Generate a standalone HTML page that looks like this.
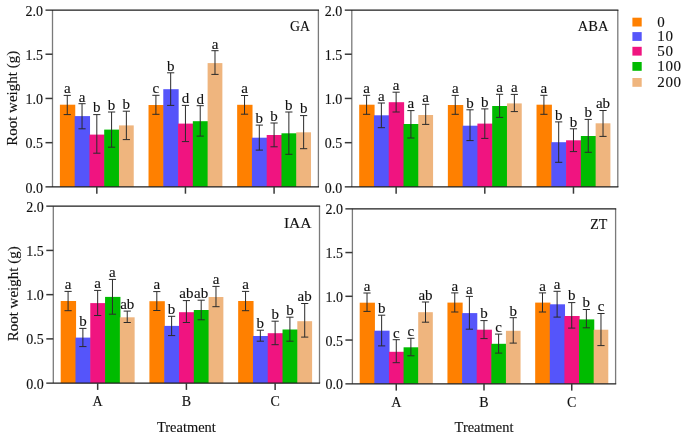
<!DOCTYPE html><html><head><meta charset="utf-8"><style>html,body{margin:0;padding:0;background:#fff;width:685px;height:435px;overflow:hidden}svg{display:block;filter:blur(0.45px)}text{stroke:#111;stroke-width:0.12px}</style></head><body>
<svg width="685" height="435" viewBox="0 0 685 435">
<rect x="0" y="0" width="685" height="435" fill="#fff"/>
<rect x="59.89" y="104.7" width="15.37" height="82.2" fill="#FF8000"/>
<rect x="74.66" y="116.1" width="15.37" height="70.8" fill="#5555FA"/>
<rect x="89.43" y="134.6" width="15.37" height="52.3" fill="#F01480"/>
<rect x="104.2" y="129.6" width="15.37" height="57.3" fill="#00BB00"/>
<rect x="118.97" y="125.4" width="14.77" height="61.5" fill="#EFB57E"/>
<rect x="148.52" y="105" width="15.37" height="81.9" fill="#FF8000"/>
<rect x="163.29" y="89.2" width="15.37" height="97.7" fill="#5555FA"/>
<rect x="178.06" y="123.6" width="15.37" height="63.3" fill="#F01480"/>
<rect x="192.84" y="121.2" width="15.37" height="65.7" fill="#00BB00"/>
<rect x="207.61" y="63.1" width="14.77" height="123.8" fill="#EFB57E"/>
<rect x="237.15" y="104.8" width="15.37" height="82.1" fill="#FF8000"/>
<rect x="251.92" y="137.7" width="15.37" height="49.2" fill="#5555FA"/>
<rect x="266.7" y="135" width="15.37" height="51.9" fill="#F01480"/>
<rect x="281.47" y="133.3" width="15.37" height="53.6" fill="#00BB00"/>
<rect x="296.24" y="132.3" width="14.77" height="54.6" fill="#EFB57E"/>
<path d="M67.27 95.4V114.6M63.67 95.4H70.87M63.67 114.6H70.87" stroke="#2a2a2a" stroke-width="1.0" fill="none"/>
<text x="67.27" y="93.2" font-family="Liberation Serif, serif" font-size="15" text-anchor="middle" fill="#111">a</text>
<path d="M82.04 103.7V128.8M78.44 103.7H85.64M78.44 128.8H85.64" stroke="#2a2a2a" stroke-width="1.0" fill="none"/>
<text x="82.04" y="101.5" font-family="Liberation Serif, serif" font-size="15" text-anchor="middle" fill="#111">a</text>
<path d="M96.82 114.6V153.2M93.22 114.6H100.42M93.22 153.2H100.42" stroke="#2a2a2a" stroke-width="1.0" fill="none"/>
<text x="96.82" y="112.4" font-family="Liberation Serif, serif" font-size="15" text-anchor="middle" fill="#111">b</text>
<path d="M111.59 112V147.2M107.99 112H115.19M107.99 147.2H115.19" stroke="#2a2a2a" stroke-width="1.0" fill="none"/>
<text x="111.59" y="109.8" font-family="Liberation Serif, serif" font-size="15" text-anchor="middle" fill="#111">b</text>
<path d="M126.36 111.2V139.6M122.76 111.2H129.96M122.76 139.6H129.96" stroke="#2a2a2a" stroke-width="1.0" fill="none"/>
<text x="126.36" y="109" font-family="Liberation Serif, serif" font-size="15" text-anchor="middle" fill="#111">b</text>
<path d="M155.91 95.3V114.3M152.31 95.3H159.51M152.31 114.3H159.51" stroke="#2a2a2a" stroke-width="1.0" fill="none"/>
<text x="155.91" y="93.1" font-family="Liberation Serif, serif" font-size="15" text-anchor="middle" fill="#111">c</text>
<path d="M170.68 72.8V105.4M167.08 72.8H174.28M167.08 105.4H174.28" stroke="#2a2a2a" stroke-width="1.0" fill="none"/>
<text x="170.68" y="70.6" font-family="Liberation Serif, serif" font-size="15" text-anchor="middle" fill="#111">b</text>
<path d="M185.45 105.4V141.6M181.85 105.4H189.05M181.85 141.6H189.05" stroke="#2a2a2a" stroke-width="1.0" fill="none"/>
<text x="185.45" y="103.2" font-family="Liberation Serif, serif" font-size="15" text-anchor="middle" fill="#111">d</text>
<path d="M200.22 105.7V136.1M196.62 105.7H203.82M196.62 136.1H203.82" stroke="#2a2a2a" stroke-width="1.0" fill="none"/>
<text x="200.22" y="103.5" font-family="Liberation Serif, serif" font-size="15" text-anchor="middle" fill="#111">d</text>
<path d="M214.99 50.7V74.4M211.39 50.7H218.59M211.39 74.4H218.59" stroke="#2a2a2a" stroke-width="1.0" fill="none"/>
<text x="214.99" y="48.5" font-family="Liberation Serif, serif" font-size="15" text-anchor="middle" fill="#111">a</text>
<path d="M244.54 95.5V114.2M240.94 95.5H248.14M240.94 114.2H248.14" stroke="#2a2a2a" stroke-width="1.0" fill="none"/>
<text x="244.54" y="93.3" font-family="Liberation Serif, serif" font-size="15" text-anchor="middle" fill="#111">a</text>
<path d="M259.31 125.1V150.1M255.71 125.1H262.91M255.71 150.1H262.91" stroke="#2a2a2a" stroke-width="1.0" fill="none"/>
<text x="259.31" y="122.9" font-family="Liberation Serif, serif" font-size="15" text-anchor="middle" fill="#111">b</text>
<path d="M274.08 123V146.8M270.48 123H277.68M270.48 146.8H277.68" stroke="#2a2a2a" stroke-width="1.0" fill="none"/>
<text x="274.08" y="120.8" font-family="Liberation Serif, serif" font-size="15" text-anchor="middle" fill="#111">b</text>
<path d="M288.86 112V154.3M285.26 112H292.46M285.26 154.3H292.46" stroke="#2a2a2a" stroke-width="1.0" fill="none"/>
<text x="288.86" y="109.8" font-family="Liberation Serif, serif" font-size="15" text-anchor="middle" fill="#111">b</text>
<path d="M303.63 115.6V148.7M300.03 115.6H307.23M300.03 148.7H307.23" stroke="#2a2a2a" stroke-width="1.0" fill="none"/>
<text x="303.63" y="113.4" font-family="Liberation Serif, serif" font-size="15" text-anchor="middle" fill="#111">b</text>
<path d="M52.5 10V186.9M318.4 10V186.9" stroke="#7a7a7a" stroke-width="1.3" fill="none"/>
<path d="M45.5 10H319M45.5 186.9H319" stroke="#1e1e1e" stroke-width="1.25" fill="none"/>
<path d="M45.5 142.68H52.5" stroke="#383838" stroke-width="1.5" fill="none"/>
<path d="M45.5 98.45H52.5" stroke="#383838" stroke-width="1.5" fill="none"/>
<path d="M45.5 54.22H52.5" stroke="#383838" stroke-width="1.5" fill="none"/>
<text x="43" y="192.5" font-family="Liberation Serif, serif" font-size="14" text-anchor="end" fill="#111">0.0</text>
<text x="43" y="148.28" font-family="Liberation Serif, serif" font-size="14" text-anchor="end" fill="#111">0.5</text>
<text x="43" y="104.05" font-family="Liberation Serif, serif" font-size="14" text-anchor="end" fill="#111">1.0</text>
<text x="43" y="59.82" font-family="Liberation Serif, serif" font-size="14" text-anchor="end" fill="#111">1.5</text>
<text x="43" y="15.6" font-family="Liberation Serif, serif" font-size="14" text-anchor="end" fill="#111">2.0</text>
<path d="M96.82 186.9V193.7" stroke="#383838" stroke-width="1.5" fill="none"/>
<path d="M185.45 186.9V193.7" stroke="#383838" stroke-width="1.5" fill="none"/>
<path d="M274.08 186.9V193.7" stroke="#383838" stroke-width="1.5" fill="none"/>
<text x="309.9" y="31.2" font-family="Liberation Serif, serif" font-size="13.8" text-anchor="end" fill="#111">GA</text>
<rect x="359.19" y="104.7" width="15.38" height="82.2" fill="#FF8000"/>
<rect x="373.97" y="115.3" width="15.38" height="71.6" fill="#5555FA"/>
<rect x="388.74" y="102.2" width="15.38" height="84.7" fill="#F01480"/>
<rect x="403.52" y="124" width="15.38" height="62.9" fill="#00BB00"/>
<rect x="418.3" y="115" width="14.78" height="71.9" fill="#EFB57E"/>
<rect x="447.86" y="105" width="15.38" height="81.9" fill="#FF8000"/>
<rect x="462.63" y="125.7" width="15.38" height="61.2" fill="#5555FA"/>
<rect x="477.41" y="123.6" width="15.38" height="63.3" fill="#F01480"/>
<rect x="492.19" y="106" width="15.38" height="80.9" fill="#00BB00"/>
<rect x="506.97" y="103.4" width="14.78" height="83.5" fill="#EFB57E"/>
<rect x="536.52" y="104.7" width="15.38" height="82.2" fill="#FF8000"/>
<rect x="551.3" y="142.2" width="15.38" height="44.7" fill="#5555FA"/>
<rect x="566.08" y="140.3" width="15.38" height="46.6" fill="#F01480"/>
<rect x="580.86" y="136" width="15.38" height="50.9" fill="#00BB00"/>
<rect x="595.63" y="123.3" width="14.78" height="63.6" fill="#EFB57E"/>
<path d="M366.58 95.3V114.3M362.98 95.3H370.18M362.98 114.3H370.18" stroke="#2a2a2a" stroke-width="1.0" fill="none"/>
<text x="366.58" y="93.1" font-family="Liberation Serif, serif" font-size="15" text-anchor="middle" fill="#111">a</text>
<path d="M381.36 103V127.7M377.76 103H384.96M377.76 127.7H384.96" stroke="#2a2a2a" stroke-width="1.0" fill="none"/>
<text x="381.36" y="100.8" font-family="Liberation Serif, serif" font-size="15" text-anchor="middle" fill="#111">a</text>
<path d="M396.13 92.2V112M392.53 92.2H399.73M392.53 112H399.73" stroke="#2a2a2a" stroke-width="1.0" fill="none"/>
<text x="396.13" y="90" font-family="Liberation Serif, serif" font-size="15" text-anchor="middle" fill="#111">a</text>
<path d="M410.91 110.6V138M407.31 110.6H414.51M407.31 138H414.51" stroke="#2a2a2a" stroke-width="1.0" fill="none"/>
<text x="410.91" y="108.4" font-family="Liberation Serif, serif" font-size="15" text-anchor="middle" fill="#111">a</text>
<path d="M425.69 104.3V124.4M422.09 104.3H429.29M422.09 124.4H429.29" stroke="#2a2a2a" stroke-width="1.0" fill="none"/>
<text x="425.69" y="102.1" font-family="Liberation Serif, serif" font-size="15" text-anchor="middle" fill="#111">a</text>
<path d="M455.24 95.4V114.3M451.64 95.4H458.84M451.64 114.3H458.84" stroke="#2a2a2a" stroke-width="1.0" fill="none"/>
<text x="455.24" y="93.2" font-family="Liberation Serif, serif" font-size="15" text-anchor="middle" fill="#111">a</text>
<path d="M470.02 109.8V140.6M466.42 109.8H473.62M466.42 140.6H473.62" stroke="#2a2a2a" stroke-width="1.0" fill="none"/>
<text x="470.02" y="107.6" font-family="Liberation Serif, serif" font-size="15" text-anchor="middle" fill="#111">b</text>
<path d="M484.8 108.9V138.4M481.2 108.9H488.4M481.2 138.4H488.4" stroke="#2a2a2a" stroke-width="1.0" fill="none"/>
<text x="484.8" y="106.7" font-family="Liberation Serif, serif" font-size="15" text-anchor="middle" fill="#111">b</text>
<path d="M499.58 94.3V117.4M495.98 94.3H503.18M495.98 117.4H503.18" stroke="#2a2a2a" stroke-width="1.0" fill="none"/>
<text x="499.58" y="92.1" font-family="Liberation Serif, serif" font-size="15" text-anchor="middle" fill="#111">a</text>
<path d="M514.36 94.4V111.6M510.76 94.4H517.96M510.76 111.6H517.96" stroke="#2a2a2a" stroke-width="1.0" fill="none"/>
<text x="514.36" y="92.2" font-family="Liberation Serif, serif" font-size="15" text-anchor="middle" fill="#111">a</text>
<path d="M543.91 95.3V114.3M540.31 95.3H547.51M540.31 114.3H547.51" stroke="#2a2a2a" stroke-width="1.0" fill="none"/>
<text x="543.91" y="93.1" font-family="Liberation Serif, serif" font-size="15" text-anchor="middle" fill="#111">a</text>
<path d="M558.69 121.9V162.3M555.09 121.9H562.29M555.09 162.3H562.29" stroke="#2a2a2a" stroke-width="1.0" fill="none"/>
<text x="558.69" y="119.7" font-family="Liberation Serif, serif" font-size="15" text-anchor="middle" fill="#111">b</text>
<path d="M573.47 128.8V151.6M569.87 128.8H577.07M569.87 151.6H577.07" stroke="#2a2a2a" stroke-width="1.0" fill="none"/>
<text x="573.47" y="126.6" font-family="Liberation Serif, serif" font-size="15" text-anchor="middle" fill="#111">b</text>
<path d="M588.24 119.4V152.3M584.64 119.4H591.84M584.64 152.3H591.84" stroke="#2a2a2a" stroke-width="1.0" fill="none"/>
<text x="588.24" y="117.2" font-family="Liberation Serif, serif" font-size="15" text-anchor="middle" fill="#111">b</text>
<path d="M603.02 110.5V136.4M599.42 110.5H606.62M599.42 136.4H606.62" stroke="#2a2a2a" stroke-width="1.0" fill="none"/>
<text x="603.02" y="108.3" font-family="Liberation Serif, serif" font-size="15" text-anchor="middle" fill="#111">ab</text>
<path d="M351.8 10V186.9M617.8 10V186.9" stroke="#7a7a7a" stroke-width="1.3" fill="none"/>
<path d="M344.8 10H618.4M344.8 186.9H618.4" stroke="#1e1e1e" stroke-width="1.25" fill="none"/>
<path d="M344.8 142.68H351.8" stroke="#383838" stroke-width="1.5" fill="none"/>
<path d="M344.8 98.45H351.8" stroke="#383838" stroke-width="1.5" fill="none"/>
<path d="M344.8 54.22H351.8" stroke="#383838" stroke-width="1.5" fill="none"/>
<text x="342.3" y="192.5" font-family="Liberation Serif, serif" font-size="14" text-anchor="end" fill="#111">0.0</text>
<text x="342.3" y="148.28" font-family="Liberation Serif, serif" font-size="14" text-anchor="end" fill="#111">0.5</text>
<text x="342.3" y="104.05" font-family="Liberation Serif, serif" font-size="14" text-anchor="end" fill="#111">1.0</text>
<text x="342.3" y="59.82" font-family="Liberation Serif, serif" font-size="14" text-anchor="end" fill="#111">1.5</text>
<text x="342.3" y="15.6" font-family="Liberation Serif, serif" font-size="14" text-anchor="end" fill="#111">2.0</text>
<path d="M396.13 186.9V193.7" stroke="#383838" stroke-width="1.5" fill="none"/>
<path d="M484.8 186.9V193.7" stroke="#383838" stroke-width="1.5" fill="none"/>
<path d="M573.47 186.9V193.7" stroke="#383838" stroke-width="1.5" fill="none"/>
<text x="608.4" y="31.4" font-family="Liberation Serif, serif" font-size="14.5" text-anchor="end" fill="#111">ABA</text>
<rect x="60.69" y="301" width="15.39" height="82.1" fill="#FF8000"/>
<rect x="75.48" y="337.6" width="15.39" height="45.5" fill="#5555FA"/>
<rect x="90.27" y="303.1" width="15.39" height="80" fill="#F01480"/>
<rect x="105.06" y="296.9" width="15.39" height="86.2" fill="#00BB00"/>
<rect x="119.85" y="317.3" width="14.79" height="65.8" fill="#EFB57E"/>
<rect x="149.43" y="301.2" width="15.39" height="81.9" fill="#FF8000"/>
<rect x="164.22" y="325.9" width="15.39" height="57.2" fill="#5555FA"/>
<rect x="179.01" y="312.2" width="15.39" height="70.9" fill="#F01480"/>
<rect x="193.79" y="310" width="15.39" height="73.1" fill="#00BB00"/>
<rect x="208.58" y="297" width="14.79" height="86.1" fill="#EFB57E"/>
<rect x="238.16" y="301" width="15.39" height="82.1" fill="#FF8000"/>
<rect x="252.95" y="336" width="15.39" height="47.1" fill="#5555FA"/>
<rect x="267.74" y="333.2" width="15.39" height="49.9" fill="#F01480"/>
<rect x="282.53" y="329.5" width="15.39" height="53.6" fill="#00BB00"/>
<rect x="297.32" y="321.2" width="14.79" height="61.9" fill="#EFB57E"/>
<path d="M68.09 291.4V310.7M64.49 291.4H71.69M64.49 310.7H71.69" stroke="#2a2a2a" stroke-width="1.0" fill="none"/>
<text x="68.09" y="289.2" font-family="Liberation Serif, serif" font-size="15" text-anchor="middle" fill="#111">a</text>
<path d="M82.88 328.4V346.6M79.28 328.4H86.48M79.28 346.6H86.48" stroke="#2a2a2a" stroke-width="1.0" fill="none"/>
<text x="82.88" y="326.2" font-family="Liberation Serif, serif" font-size="15" text-anchor="middle" fill="#111">b</text>
<path d="M97.67 290.4V315.5M94.07 290.4H101.27M94.07 315.5H101.27" stroke="#2a2a2a" stroke-width="1.0" fill="none"/>
<text x="97.67" y="288.2" font-family="Liberation Serif, serif" font-size="15" text-anchor="middle" fill="#111">a</text>
<path d="M112.46 279.4V314.2M108.86 279.4H116.06M108.86 314.2H116.06" stroke="#2a2a2a" stroke-width="1.0" fill="none"/>
<text x="112.46" y="277.2" font-family="Liberation Serif, serif" font-size="15" text-anchor="middle" fill="#111">a</text>
<path d="M127.24 311.1V322.5M123.64 311.1H130.84M123.64 322.5H130.84" stroke="#2a2a2a" stroke-width="1.0" fill="none"/>
<text x="127.24" y="308.9" font-family="Liberation Serif, serif" font-size="15" text-anchor="middle" fill="#111">ab</text>
<path d="M156.82 291.6V310.5M153.22 291.6H160.42M153.22 310.5H160.42" stroke="#2a2a2a" stroke-width="1.0" fill="none"/>
<text x="156.82" y="289.4" font-family="Liberation Serif, serif" font-size="15" text-anchor="middle" fill="#111">a</text>
<path d="M171.61 316.3V335.6M168.01 316.3H175.21M168.01 335.6H175.21" stroke="#2a2a2a" stroke-width="1.0" fill="none"/>
<text x="171.61" y="314.1" font-family="Liberation Serif, serif" font-size="15" text-anchor="middle" fill="#111">b</text>
<path d="M186.4 300.6V322.5M182.8 300.6H190M182.8 322.5H190" stroke="#2a2a2a" stroke-width="1.0" fill="none"/>
<text x="186.4" y="298.4" font-family="Liberation Serif, serif" font-size="15" text-anchor="middle" fill="#111">ab</text>
<path d="M201.19 300.2V319.8M197.59 300.2H204.79M197.59 319.8H204.79" stroke="#2a2a2a" stroke-width="1.0" fill="none"/>
<text x="201.19" y="298" font-family="Liberation Serif, serif" font-size="15" text-anchor="middle" fill="#111">ab</text>
<path d="M215.98 286.4V306.7M212.38 286.4H219.58M212.38 306.7H219.58" stroke="#2a2a2a" stroke-width="1.0" fill="none"/>
<text x="215.98" y="284.2" font-family="Liberation Serif, serif" font-size="15" text-anchor="middle" fill="#111">a</text>
<path d="M245.56 291.4V310.7M241.96 291.4H249.16M241.96 310.7H249.16" stroke="#2a2a2a" stroke-width="1.0" fill="none"/>
<text x="245.56" y="289.2" font-family="Liberation Serif, serif" font-size="15" text-anchor="middle" fill="#111">a</text>
<path d="M260.34 330.2V341.2M256.74 330.2H263.94M256.74 341.2H263.94" stroke="#2a2a2a" stroke-width="1.0" fill="none"/>
<text x="260.34" y="328" font-family="Liberation Serif, serif" font-size="15" text-anchor="middle" fill="#111">b</text>
<path d="M275.13 321.2V344.7M271.53 321.2H278.73M271.53 344.7H278.73" stroke="#2a2a2a" stroke-width="1.0" fill="none"/>
<text x="275.13" y="319" font-family="Liberation Serif, serif" font-size="15" text-anchor="middle" fill="#111">b</text>
<path d="M289.92 317.2V341.2M286.32 317.2H293.52M286.32 341.2H293.52" stroke="#2a2a2a" stroke-width="1.0" fill="none"/>
<text x="289.92" y="315" font-family="Liberation Serif, serif" font-size="15" text-anchor="middle" fill="#111">b</text>
<path d="M304.71 303.5V337.1M301.11 303.5H308.31M301.11 337.1H308.31" stroke="#2a2a2a" stroke-width="1.0" fill="none"/>
<text x="304.71" y="301.3" font-family="Liberation Serif, serif" font-size="15" text-anchor="middle" fill="#111">ab</text>
<path d="M53.3 206.2V383.1M319.5 206.2V383.1" stroke="#7a7a7a" stroke-width="1.3" fill="none"/>
<path d="M46.3 206.2H320.1M46.3 383.1H320.1" stroke="#1e1e1e" stroke-width="1.25" fill="none"/>
<path d="M46.3 338.88H53.3" stroke="#383838" stroke-width="1.5" fill="none"/>
<path d="M46.3 294.65H53.3" stroke="#383838" stroke-width="1.5" fill="none"/>
<path d="M46.3 250.43H53.3" stroke="#383838" stroke-width="1.5" fill="none"/>
<text x="43.8" y="388.7" font-family="Liberation Serif, serif" font-size="14" text-anchor="end" fill="#111">0.0</text>
<text x="43.8" y="344.48" font-family="Liberation Serif, serif" font-size="14" text-anchor="end" fill="#111">0.5</text>
<text x="43.8" y="300.25" font-family="Liberation Serif, serif" font-size="14" text-anchor="end" fill="#111">1.0</text>
<text x="43.8" y="256.03" font-family="Liberation Serif, serif" font-size="14" text-anchor="end" fill="#111">1.5</text>
<text x="43.8" y="211.8" font-family="Liberation Serif, serif" font-size="14" text-anchor="end" fill="#111">2.0</text>
<path d="M97.67 383.1V389.9" stroke="#383838" stroke-width="1.5" fill="none"/>
<text x="97.67" y="406.1" font-family="Liberation Serif, serif" font-size="14" text-anchor="middle" fill="#111">A</text>
<path d="M186.4 383.1V389.9" stroke="#383838" stroke-width="1.5" fill="none"/>
<text x="186.4" y="406.1" font-family="Liberation Serif, serif" font-size="14" text-anchor="middle" fill="#111">B</text>
<path d="M275.13 383.1V389.9" stroke="#383838" stroke-width="1.5" fill="none"/>
<text x="275.13" y="406.1" font-family="Liberation Serif, serif" font-size="14" text-anchor="middle" fill="#111">C</text>
<text x="311.6" y="228.3" font-family="Liberation Serif, serif" font-size="15.6" text-anchor="end" fill="#111">IAA</text>
<rect x="359.71" y="302.7" width="15.22" height="81.1" fill="#FF8000"/>
<rect x="374.33" y="330.7" width="15.22" height="53.1" fill="#5555FA"/>
<rect x="388.96" y="351.8" width="15.22" height="32" fill="#F01480"/>
<rect x="403.58" y="347.3" width="15.22" height="36.5" fill="#00BB00"/>
<rect x="418.2" y="312.2" width="14.62" height="71.6" fill="#EFB57E"/>
<rect x="447.44" y="302.6" width="15.22" height="81.2" fill="#FF8000"/>
<rect x="462.07" y="313.1" width="15.22" height="70.7" fill="#5555FA"/>
<rect x="476.69" y="329.7" width="15.22" height="54.1" fill="#F01480"/>
<rect x="491.31" y="343.8" width="15.22" height="40" fill="#00BB00"/>
<rect x="505.93" y="330.8" width="14.62" height="53" fill="#EFB57E"/>
<rect x="535.18" y="302.6" width="15.22" height="81.2" fill="#FF8000"/>
<rect x="549.8" y="304.3" width="15.22" height="79.5" fill="#5555FA"/>
<rect x="564.42" y="316" width="15.22" height="67.8" fill="#F01480"/>
<rect x="579.04" y="319.4" width="15.22" height="64.4" fill="#00BB00"/>
<rect x="593.67" y="329.7" width="14.62" height="54.1" fill="#EFB57E"/>
<path d="M367.02 293V311.4M363.42 293H370.62M363.42 311.4H370.62" stroke="#2a2a2a" stroke-width="1.0" fill="none"/>
<text x="367.02" y="290.8" font-family="Liberation Serif, serif" font-size="15" text-anchor="middle" fill="#111">a</text>
<path d="M381.64 315.2V345.9M378.04 315.2H385.24M378.04 345.9H385.24" stroke="#2a2a2a" stroke-width="1.0" fill="none"/>
<text x="381.64" y="313" font-family="Liberation Serif, serif" font-size="15" text-anchor="middle" fill="#111">b</text>
<path d="M396.27 339.7V362.7M392.67 339.7H399.87M392.67 362.7H399.87" stroke="#2a2a2a" stroke-width="1.0" fill="none"/>
<text x="396.27" y="337.5" font-family="Liberation Serif, serif" font-size="15" text-anchor="middle" fill="#111">c</text>
<path d="M410.89 338.3V355.8M407.29 338.3H414.49M407.29 355.8H414.49" stroke="#2a2a2a" stroke-width="1.0" fill="none"/>
<text x="410.89" y="336.1" font-family="Liberation Serif, serif" font-size="15" text-anchor="middle" fill="#111">c</text>
<path d="M425.51 302V322.2M421.91 302H429.11M421.91 322.2H429.11" stroke="#2a2a2a" stroke-width="1.0" fill="none"/>
<text x="425.51" y="299.8" font-family="Liberation Serif, serif" font-size="15" text-anchor="middle" fill="#111">ab</text>
<path d="M454.76 292.9V312M451.16 292.9H458.36M451.16 312H458.36" stroke="#2a2a2a" stroke-width="1.0" fill="none"/>
<text x="454.76" y="290.7" font-family="Liberation Serif, serif" font-size="15" text-anchor="middle" fill="#111">a</text>
<path d="M469.38 296.4V329.2M465.78 296.4H472.98M465.78 329.2H472.98" stroke="#2a2a2a" stroke-width="1.0" fill="none"/>
<text x="469.38" y="294.2" font-family="Liberation Serif, serif" font-size="15" text-anchor="middle" fill="#111">a</text>
<path d="M484 320.6V338.6M480.4 320.6H487.6M480.4 338.6H487.6" stroke="#2a2a2a" stroke-width="1.0" fill="none"/>
<text x="484" y="318.4" font-family="Liberation Serif, serif" font-size="15" text-anchor="middle" fill="#111">b</text>
<path d="M498.62 334.1V353.1M495.02 334.1H502.22M495.02 353.1H502.22" stroke="#2a2a2a" stroke-width="1.0" fill="none"/>
<text x="498.62" y="331.9" font-family="Liberation Serif, serif" font-size="15" text-anchor="middle" fill="#111">c</text>
<path d="M513.24 317.7V343.1M509.64 317.7H516.84M509.64 343.1H516.84" stroke="#2a2a2a" stroke-width="1.0" fill="none"/>
<text x="513.24" y="315.5" font-family="Liberation Serif, serif" font-size="15" text-anchor="middle" fill="#111">b</text>
<path d="M542.49 292.9V312M538.89 292.9H546.09M538.89 312H546.09" stroke="#2a2a2a" stroke-width="1.0" fill="none"/>
<text x="542.49" y="290.7" font-family="Liberation Serif, serif" font-size="15" text-anchor="middle" fill="#111">a</text>
<path d="M557.11 291.3V317.1M553.51 291.3H560.71M553.51 317.1H560.71" stroke="#2a2a2a" stroke-width="1.0" fill="none"/>
<text x="557.11" y="289.1" font-family="Liberation Serif, serif" font-size="15" text-anchor="middle" fill="#111">a</text>
<path d="M571.73 302.6V328.1M568.13 302.6H575.33M568.13 328.1H575.33" stroke="#2a2a2a" stroke-width="1.0" fill="none"/>
<text x="571.73" y="300.4" font-family="Liberation Serif, serif" font-size="15" text-anchor="middle" fill="#111">b</text>
<path d="M586.36 309.5V327.8M582.76 309.5H589.96M582.76 327.8H589.96" stroke="#2a2a2a" stroke-width="1.0" fill="none"/>
<text x="586.36" y="307.3" font-family="Liberation Serif, serif" font-size="15" text-anchor="middle" fill="#111">b</text>
<path d="M600.98 313.5V345.6M597.38 313.5H604.58M597.38 345.6H604.58" stroke="#2a2a2a" stroke-width="1.0" fill="none"/>
<text x="600.98" y="311.3" font-family="Liberation Serif, serif" font-size="15" text-anchor="middle" fill="#111">c</text>
<path d="M352.4 208.8V383.8M615.6 208.8V383.8" stroke="#7a7a7a" stroke-width="1.3" fill="none"/>
<path d="M345.4 208.8H616.2M345.4 383.8H616.2" stroke="#1e1e1e" stroke-width="1.25" fill="none"/>
<path d="M345.4 340.05H352.4" stroke="#383838" stroke-width="1.5" fill="none"/>
<path d="M345.4 296.3H352.4" stroke="#383838" stroke-width="1.5" fill="none"/>
<path d="M345.4 252.55H352.4" stroke="#383838" stroke-width="1.5" fill="none"/>
<text x="342.9" y="389.4" font-family="Liberation Serif, serif" font-size="14" text-anchor="end" fill="#111">0.0</text>
<text x="342.9" y="345.65" font-family="Liberation Serif, serif" font-size="14" text-anchor="end" fill="#111">0.5</text>
<text x="342.9" y="301.9" font-family="Liberation Serif, serif" font-size="14" text-anchor="end" fill="#111">1.0</text>
<text x="342.9" y="258.15" font-family="Liberation Serif, serif" font-size="14" text-anchor="end" fill="#111">1.5</text>
<text x="342.9" y="214.4" font-family="Liberation Serif, serif" font-size="14" text-anchor="end" fill="#111">2.0</text>
<path d="M396.27 383.8V390.6" stroke="#383838" stroke-width="1.5" fill="none"/>
<text x="396.27" y="406.8" font-family="Liberation Serif, serif" font-size="14" text-anchor="middle" fill="#111">A</text>
<path d="M484 383.8V390.6" stroke="#383838" stroke-width="1.5" fill="none"/>
<text x="484" y="406.8" font-family="Liberation Serif, serif" font-size="14" text-anchor="middle" fill="#111">B</text>
<path d="M571.73 383.8V390.6" stroke="#383838" stroke-width="1.5" fill="none"/>
<text x="571.73" y="406.8" font-family="Liberation Serif, serif" font-size="14" text-anchor="middle" fill="#111">C</text>
<text x="607.3" y="229.4" font-family="Liberation Serif, serif" font-size="14" text-anchor="end" fill="#111">ZT</text>
<text transform="translate(17 145.8) rotate(-90)" font-family="Liberation Serif, serif" font-size="15" fill="#111">Root weight (g)</text>
<text transform="translate(17.5 341.3) rotate(-90)" font-family="Liberation Serif, serif" font-size="15" fill="#111">Root weight (g)</text>
<text x="186.4" y="432" font-family="Liberation Serif, serif" font-size="14.45" text-anchor="middle" fill="#111">Treatment</text>
<text x="484" y="432" font-family="Liberation Serif, serif" font-size="14.45" text-anchor="middle" fill="#111">Treatment</text>
<rect x="632.4" y="17.7" width="9.3" height="8.8" fill="#FF8000"/>
<text x="657.3" y="27" font-family="Liberation Serif, serif" font-size="15" letter-spacing="0.6" fill="#111">0</text>
<rect x="632.4" y="32.1" width="9.3" height="8.8" fill="#5555FA"/>
<text x="657.3" y="41" font-family="Liberation Serif, serif" font-size="15" letter-spacing="0.6" fill="#111">10</text>
<rect x="632.4" y="46.8" width="9.3" height="8.8" fill="#F01480"/>
<text x="657.3" y="56" font-family="Liberation Serif, serif" font-size="15" letter-spacing="0.6" fill="#111">50</text>
<rect x="632.4" y="62" width="9.3" height="8.8" fill="#00BB00"/>
<text x="657.3" y="71.4" font-family="Liberation Serif, serif" font-size="15" letter-spacing="0.6" fill="#111">100</text>
<rect x="632.4" y="78" width="9.3" height="8.8" fill="#EFB57E"/>
<text x="657.3" y="87.2" font-family="Liberation Serif, serif" font-size="15" letter-spacing="0.6" fill="#111">200</text>
</svg></body></html>
